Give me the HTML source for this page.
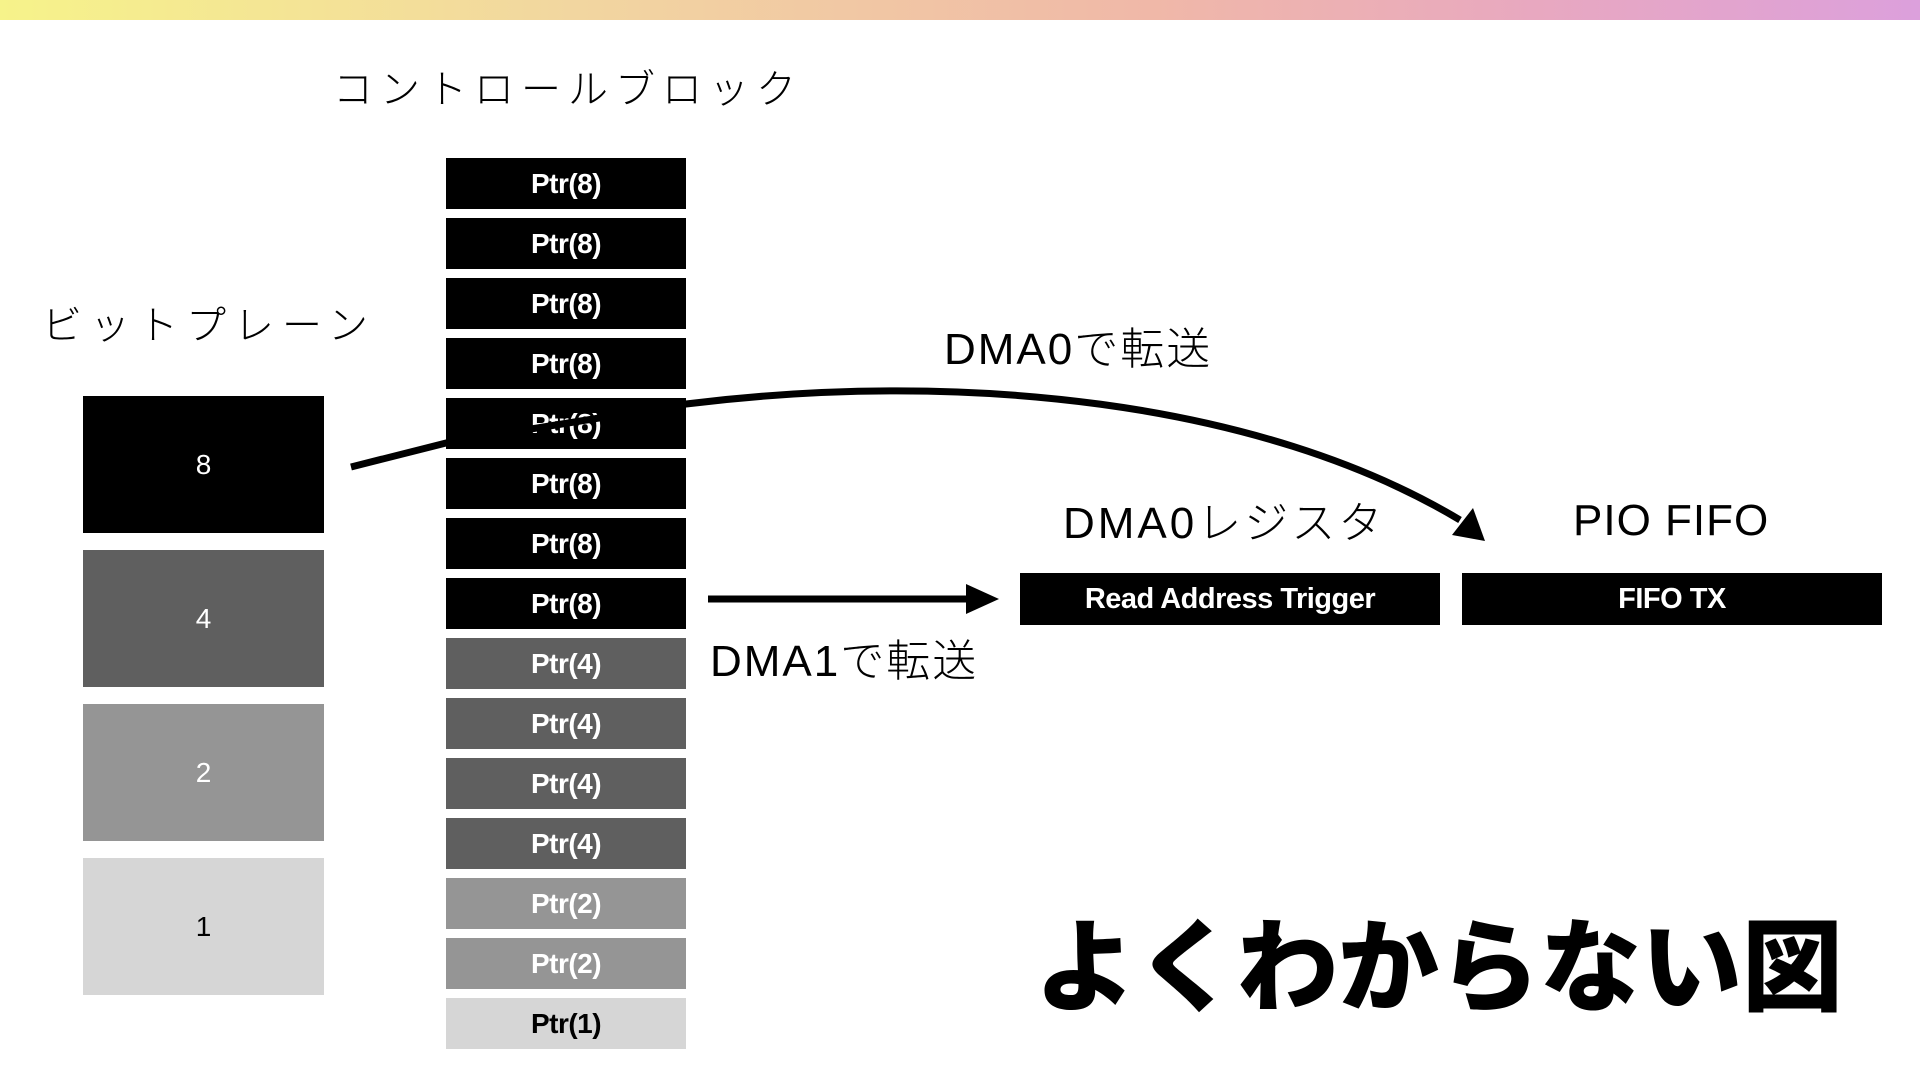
<!DOCTYPE html>
<html><head><meta charset="utf-8"><style>
body{margin:0;width:1920px;height:1080px;background:#fff;position:relative;overflow:hidden;font-family:"Liberation Sans","Noto Sans CJK JP",sans-serif;}
.bar{position:absolute;left:0;top:0;width:1920px;height:20px;background:linear-gradient(90deg,#f6f38a 0%,#f2d6a0 30%,#f0b8a8 60%,#e8a8c0 80%,#dca0dc 100%);}
.t{position:absolute;white-space:nowrap;color:#000;font-weight:300;}
.bp{position:absolute;left:83px;width:241px;height:137px;display:flex;align-items:center;justify-content:center;font-size:28px;color:#fff;}
.p{position:absolute;left:446px;width:240px;height:51px;display:flex;align-items:center;justify-content:center;font-size:28px;font-weight:bold;color:#fff;letter-spacing:-0.5px;}
.box{position:absolute;top:573px;height:52px;width:420px;background:#000;color:#fff;font-size:29px;font-weight:bold;display:flex;align-items:center;justify-content:center;letter-spacing:-0.5px;}
</style></head><body>
<div class="bar"></div>
<div class="t" style="left:333px;top:57px;font-size:40px;letter-spacing:7px;">コントロールブロック</div>
<div class="t" style="left:42px;top:293px;font-size:40px;letter-spacing:8px;">ビットプレーン</div>
<div class="bp" style="top:396px;background:#000">8</div>
<div class="bp" style="top:550px;background:#5f5f5f">4</div>
<div class="bp" style="top:704px;background:#959595">2</div>
<div class="bp" style="top:858px;background:#d6d6d6;color:#000">1</div>

<div class="p" style="top:158px;background:#000">Ptr(8)</div>
<div class="p" style="top:218px;background:#000">Ptr(8)</div>
<div class="p" style="top:278px;background:#000">Ptr(8)</div>
<div class="p" style="top:338px;background:#000">Ptr(8)</div>
<div class="p" style="top:398px;background:#000">Ptr(8)</div>
<div class="p" style="top:458px;background:#000">Ptr(8)</div>
<div class="p" style="top:518px;background:#000">Ptr(8)</div>
<div class="p" style="top:578px;background:#000">Ptr(8)</div>
<div class="p" style="top:638px;background:#5f5f5f">Ptr(4)</div>
<div class="p" style="top:698px;background:#5f5f5f">Ptr(4)</div>
<div class="p" style="top:758px;background:#5f5f5f">Ptr(4)</div>
<div class="p" style="top:818px;background:#5f5f5f">Ptr(4)</div>
<div class="p" style="top:878px;background:#959595">Ptr(2)</div>
<div class="p" style="top:938px;background:#959595">Ptr(2)</div>
<div class="p" style="top:998px;background:#d6d6d6;color:#000">Ptr(1)</div>

<svg width="1920" height="1080" style="position:absolute;left:0;top:0">
<path d="M351,467 L450,442 M450,442 L686,404 C960,370 1260,400 1460,520" fill="none" stroke="#000" stroke-width="7"/>
<polygon points="1485,541 1452,535 1473,508" fill="#000"/>
<line x1="708" y1="599" x2="970" y2="599" stroke="#000" stroke-width="7"/>
<polygon points="999,599 966,584 966,614" fill="#000"/>
</svg>

<div class="t" style="left:944px;top:313px;font-size:44px;letter-spacing:2px;">DMA0で転送</div>
<div class="t" style="left:710px;top:625px;font-size:44px;letter-spacing:2px;">DMA1で転送</div>
<div class="t" style="left:1063px;top:487px;font-size:44px;letter-spacing:3px;">DMA0レジスタ</div>
<div class="t" style="left:1573px;top:496px;font-size:44px;letter-spacing:1px;">PIO FIFO</div>
<div class="box" style="left:1020px">Read Address Trigger</div>
<div class="box" style="left:1462px">FIFO TX</div>
<div class="t" style="left:1035px;top:887px;font-size:101px;font-weight:900;">よくわからない図</div>
</body></html>
